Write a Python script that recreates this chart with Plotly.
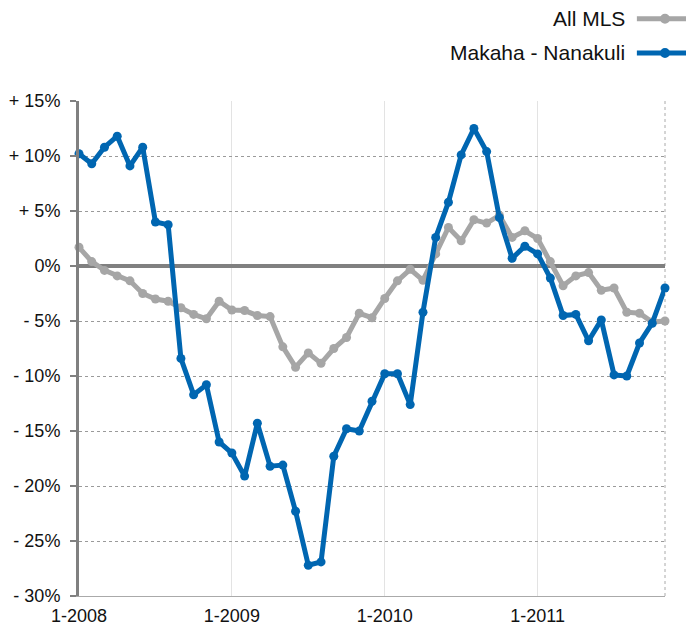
import plotly.graph_objects as go

months = [f"{m}-{y}" for y in range(2008, 2012) for m in range(1, 13)][:47]

all_mls = [1.7, 0.4, -0.4, -0.9, -1.35, -2.5, -3.0, -3.2, -3.8, -4.4, -4.8, -3.2,
           -4.0, -4.05, -4.5, -4.6, -7.35, -9.2, -7.9, -8.85, -7.5, -6.5, -4.3, -4.7,
           -2.95, -1.35, -0.3, -1.3, 1.1, 3.5, 2.3, 4.2, 3.9, 4.6, 2.6, 3.2,
           2.5, 0.4, -1.8, -0.9, -0.6, -2.2, -2.0, -4.2, -4.3, -5.1, -5.0]

makaha = [10.2, 9.3, 10.8, 11.8, 9.1, 10.8, 4.0, 3.75, -8.4, -11.7, -10.8, -16.0,
          -17.0, -19.1, -14.3, -18.2, -18.1, -22.3, -27.2, -26.9, -17.3, -14.8, -15.0, -12.3,
          -9.8, -9.8, -12.6, -4.2, 2.6, 5.8, 10.1, 12.5, 10.4, 4.4, 0.7, 1.8,
          1.1, -1.1, -4.5, -4.4, -6.8, -4.9, -9.9, -10.0, -7.0, -5.2, -2.0]

x_tickvals = ["1-2008", "1-2009", "1-2010", "1-2011"]
y_tickvals = [15, 10, 5, 0, -5, -10, -15, -20, -25, -30]
y_ticktext = ["+ 15%", "+ 10%", "+ 5%", "0%", "- 5%", "- 10%", "- 15%", "- 20%", "- 25%", "- 30%"]

series_names = ["All MLS", "Makaha - Nanakuli"]
gray = "#A6A6A6"
blue = "#0066B1"

fig = go.Figure()
fig.add_trace(go.Scatter(x=months, y=all_mls, mode="lines+markers", name=series_names[0],
                         line=dict(color=gray, width=5), marker=dict(color=gray, size=9),
                         cliponaxis=False, showlegend=False))
fig.add_trace(go.Scatter(x=months, y=makaha, mode="lines+markers", name=series_names[1],
                         line=dict(color=blue, width=5), marker=dict(color=blue, size=9),
                         cliponaxis=False, showlegend=False))

# manual legend (text left of sample, like the reference)
legend_rows = [(series_names[0], gray, 1.166), (series_names[1], blue, 1.097)]
for name, col, yy in legend_rows:
    fig.add_annotation(xref="paper", yref="paper", x=0.935, y=yy, text=name, showarrow=False,
                       xanchor="right", yanchor="middle",
                       font=dict(family="Liberation Sans", size=21, color="#111"))
    fig.add_shape(type="line", xref="paper", yref="paper", x0=0.952, x1=1.048, y0=yy, y1=yy,
                  line=dict(color=col, width=5))
    fig.add_shape(type="circle", xref="paper", yref="paper", xsizemode="pixel", ysizemode="pixel",
                  xanchor=1.0, yanchor=yy, x0=-5, x1=5, y0=-5, y1=5,
                  fillcolor=col, line=dict(color=col, width=0))

# right dotted border
fig.add_shape(type="line", xref="paper", yref="paper", x0=1, x1=1, y0=0, y1=1,
              line=dict(color="#AAAAAA", width=1, dash="dot"), layer="below")

# the page body has an 8px margin, so the figure is sized to end at the window edge
fig.update_layout(
    width=686, height=618,
    margin=dict(l=71, r=29, t=93, b=30),
    paper_bgcolor="white", plot_bgcolor="white",
    font=dict(family="Liberation Sans", size=18, color="#111"),
    xaxis=dict(type="category", range=[0, 46], tickmode="array", tickvals=x_tickvals,
               ticktext=x_tickvals, showgrid=True, gridcolor="#E3E3E3", gridwidth=1,
               showline=True, linecolor="#AAAAAA", linewidth=1, ticks="", zeroline=False,
               tickfont=dict(size=18), automargin=False, ticklabelstandoff=3),
    yaxis=dict(range=[-30, 15], tickmode="array", tickvals=y_tickvals, ticktext=y_ticktext,
               showgrid=True, gridcolor="#9A9A9A", gridwidth=1, griddash="dot",
               showline=True, linecolor="#808080", linewidth=3,
               ticks="outside", ticklen=6, tickwidth=2, tickcolor="#808080",
               zeroline=True, zerolinecolor="#808080", zerolinewidth=4,
               tickfont=dict(size=18), automargin=False, ticklabelstandoff=6),
)

fig.write_html("out.html")
